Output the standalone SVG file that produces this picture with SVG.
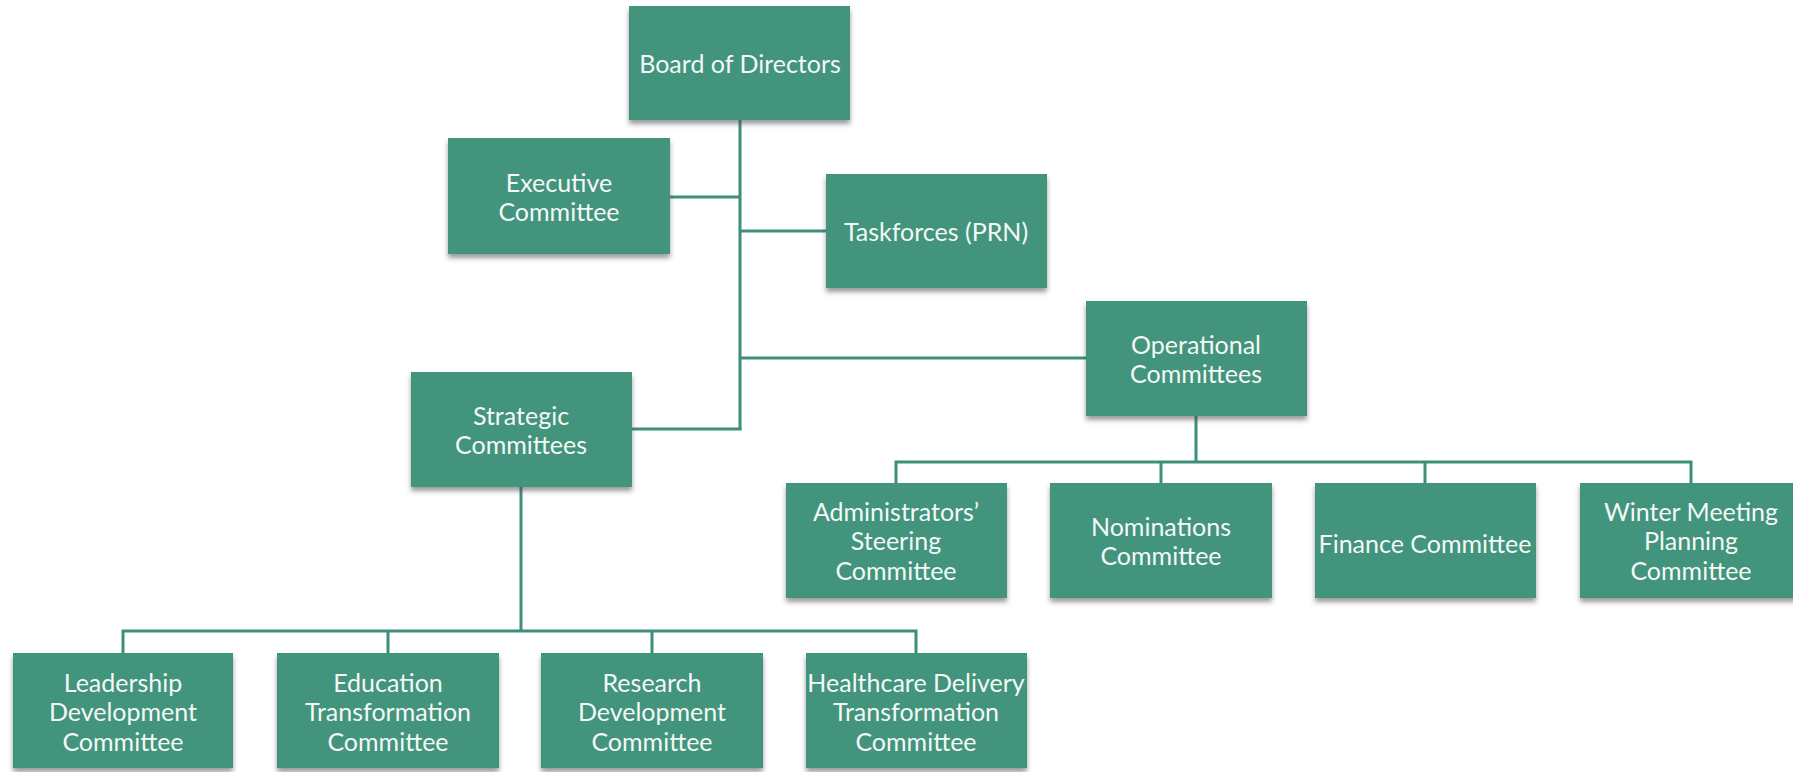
<svg xmlns="http://www.w3.org/2000/svg" width="1793" height="772" viewBox="0 0 1793 772">
<style>
.box{fill:#43947b;filter:url(#sh)}
.t{font-family:Lato,"Open Sans","Liberation Sans",sans-serif;font-size:25px;fill:#f4f8f6;text-anchor:middle;dominant-baseline:central}
.c{stroke:#3d8f7b;stroke-width:3;fill:none}
</style>
<defs>
<filter id="sh" x="-10%" y="-10%" width="120%" height="130%">
<feDropShadow dx="0" dy="4" stdDeviation="2.5" flood-color="#4a4a4a" flood-opacity="0.55"/>
</filter>
</defs>
<rect width="1793" height="772" fill="#ffffff"/>
<g id="connectors" class="c">
<path d="M740 120V430"/>
<path d="M670 197H740"/>
<path d="M740 231H826"/>
<path d="M740 358H1086"/>
<path d="M632 429H741.5"/>
<path d="M1196 416V462"/>
<path d="M896 483V462H1691V483"/>
<path d="M1161 462V483"/>
<path d="M1425 462V483"/>
<path d="M521 487V631"/>
<path d="M123 653V631H916V653"/>
<path d="M388 631V653"/>
<path d="M652 631V653"/>
</g>
<g id="board"><rect class="box" x="629" y="6" width="221" height="114"/><text class="t" x="740" y="63">Board of Directors</text></g>
<g id="executive"><rect class="box" x="448" y="138" width="222" height="116"/><text class="t" x="559" y="182">Executive</text><text class="t" x="559" y="211">Committee</text></g>
<g id="taskforces"><rect class="box" x="826" y="174" width="221" height="114"/><text class="t" x="936" y="231">Taskforces (PRN)</text></g>
<g id="operational"><rect class="box" x="1086" y="301" width="221" height="115"/><text class="t" x="1196" y="344">Operational</text><text class="t" x="1196" y="373">Committees</text></g>
<g id="strategic"><rect class="box" x="411" y="372" width="221" height="115"/><text class="t" x="521" y="415">Strategic</text><text class="t" x="521" y="444">Committees</text></g>
<g id="administrators"><rect class="box" x="786" y="483" width="221" height="115"/><text class="t" x="896" y="511">Administrators’</text><text class="t" x="896" y="540">Steering</text><text class="t" x="896" y="570">Committee</text></g>
<g id="nominations"><rect class="box" x="1050" y="483" width="222" height="115"/><text class="t" x="1161" y="526">Nominations</text><text class="t" x="1161" y="555">Committee</text></g>
<g id="finance"><rect class="box" x="1315" y="483" width="221" height="115"/><text class="t" x="1425" y="543">Finance Committee</text></g>
<g id="winter"><rect class="box" x="1580" y="483" width="222" height="115"/><text class="t" x="1691" y="511">Winter Meeting</text><text class="t" x="1691" y="540">Planning</text><text class="t" x="1691" y="570">Committee</text></g>
<g id="leadership"><rect class="box" x="13" y="653" width="220" height="115"/><text class="t" x="123" y="682">Leadership</text><text class="t" x="123" y="711">Development</text><text class="t" x="123" y="741">Committee</text></g>
<g id="education"><rect class="box" x="277" y="653" width="222" height="115"/><text class="t" x="388" y="682">Education</text><text class="t" x="388" y="711">Transformation</text><text class="t" x="388" y="741">Committee</text></g>
<g id="research"><rect class="box" x="541" y="653" width="222" height="115"/><text class="t" x="652" y="682">Research</text><text class="t" x="652" y="711">Development</text><text class="t" x="652" y="741">Committee</text></g>
<g id="healthcare"><rect class="box" x="806" y="653" width="221" height="115"/><text class="t" x="916" y="682">Healthcare Delivery</text><text class="t" x="916" y="711">Transformation</text><text class="t" x="916" y="741">Committee</text></g>
</svg>
